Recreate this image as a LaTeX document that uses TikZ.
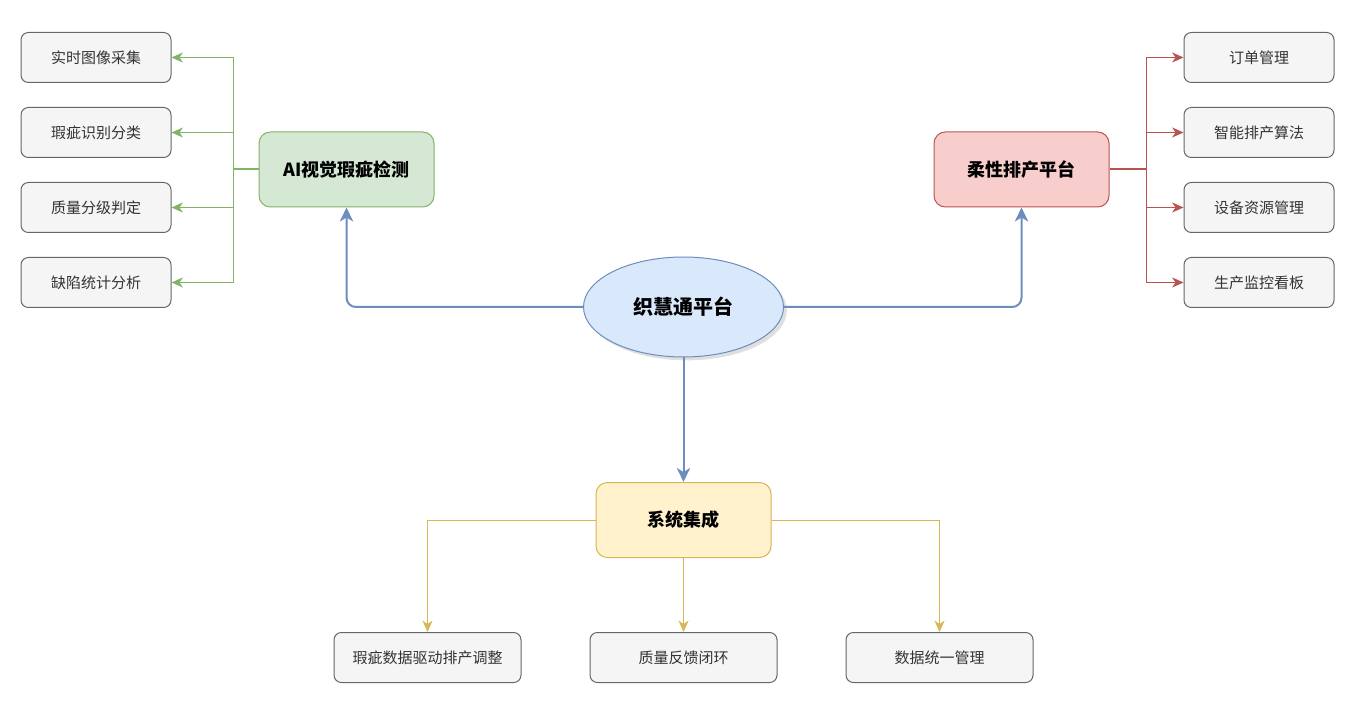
\documentclass[tikz,border=0pt]{standalone}
\usepackage{fontspec}
\setmainfont{Noto Sans CJK SC}
\usetikzlibrary{arrows.meta,shapes.geometric,shadows}
\definecolor{gfill}{HTML}{D5E8D4}\definecolor{gline}{HTML}{82B366}
\definecolor{rfill}{HTML}{F8CECC}\definecolor{rline}{HTML}{B85450}
\definecolor{yfill}{HTML}{FFF2CC}\definecolor{yline}{HTML}{D6B656}
\definecolor{bfill}{HTML}{DAE8FC}\definecolor{bline}{HTML}{6C8EBF}
\definecolor{kfill}{HTML}{F5F5F5}\definecolor{kline}{HTML}{666666}
\definecolor{ktext}{HTML}{333333}
\begin{document}
\begin{tikzpicture}[x=0.75pt,y=-0.75pt,
  childbox/.style={draw=kline,fill=kfill,line width=0.75pt,rounded corners=5.5pt,
    minimum width=112.5pt,minimum height=37.5pt,inner sep=0pt,
    font=\fontsize{11.25pt}{13pt}\selectfont,text=ktext},
  widebox/.style={childbox,minimum width=140.25pt},
  mainbox/.style={line width=0.75pt,rounded corners=8.5pt,
    minimum width=131.25pt,minimum height=56.25pt,inner sep=0pt,
    font=\bfseries\fontsize{13.5pt}{16pt}\selectfont,text=black},
  coreell/.style={ellipse,draw=bline,fill=bfill,line width=0.75pt,
    minimum width=150pt,minimum height=75pt,inner sep=0pt,
    font=\bfseries\fontsize{15pt}{18pt}\selectfont,text=black,
    drop shadow={opacity=0.25,shadow xshift=2.5pt,shadow yshift=-2.5pt}},
  tipsmall/.style={-{Stealth[length=8.5pt,width=7.5pt,inset=2.5pt]}},
  garrow/.style={draw=gline,line width=0.75pt,tipsmall},
  rarrow/.style={draw=rline,line width=0.75pt,tipsmall},
  yarrow/.style={draw=yline,line width=0.75pt,tipsmall},
  stubline/.style={line width=1.5pt},
  barrow/.style={draw=bline,line width=1.5pt,rounded corners=7pt,-{Stealth[length=10.5pt,width=10pt,inset=3pt]}}
]
\useasboundingbox (0,0) rectangle (1359,712);
% left children
\node[childbox] (l1) at (96,57.5) {实时图像采集};
\node[childbox] (l2) at (96,132.5) {瑕疵识别分类};
\node[childbox] (l3) at (96,207.5) {质量分级判定};
\node[childbox] (l4) at (96,282.5) {缺陷统计分析};
% right children
\node[childbox] (r1) at (1259,57.5) {订单管理};
\node[childbox] (r2) at (1259,132.5) {智能排产算法};
\node[childbox] (r3) at (1259,207.5) {设备资源管理};
\node[childbox] (r4) at (1259,282.5) {生产监控看板};
% main boxes
\node[mainbox,draw=gline,fill=gfill] (ai) at (346.5,169.5) {AI视觉瑕疵检测};
\node[mainbox,draw=rline,fill=rfill] (fs) at (1021.5,169.5) {柔性排产平台};
\node[mainbox,draw=yline,fill=yfill] (si) at (683.5,520) {系统集成};
\node[coreell] (core) at (683.5,307) {织慧通平台};
% bottom children
\node[widebox] (b1) at (427.5,657.5) {瑕疵数据驱动排产调整};
\node[widebox] (b2) at (683.5,657.5) {质量反馈闭环};
\node[widebox] (b3) at (939.5,657.5) {数据统一管理};
% trunks
\coordinate (gt) at (233,169.5);
\coordinate (rt) at (1146,169.5);
% green
\draw[draw=gline,stubline] (ai.west) -- (gt);
\draw[garrow] (gt) |- (l1.east);
\draw[garrow] (gt) |- (l2.east);
\draw[garrow] (gt) |- (l3.east);
\draw[garrow] (gt) |- (l4.east);
% red
\draw[draw=rline,stubline] (fs.east) -- (rt);
\draw[rarrow] (rt) |- (r1.west);
\draw[rarrow] (rt) |- (r2.west);
\draw[rarrow] (rt) |- (r3.west);
\draw[rarrow] (rt) |- (r4.west);
% blue
\draw[barrow] (core.west) -| (ai.south);
\draw[barrow] (core.east) -| (fs.south);
\draw[barrow] (core.south) -- (si.north);
% yellow
\draw[yarrow] (si.west) -| (b1.north);
\draw[yarrow] (si.south) -- (b2.north);
\draw[yarrow] (si.east) -| (b3.north);
\end{tikzpicture}
\end{document}
